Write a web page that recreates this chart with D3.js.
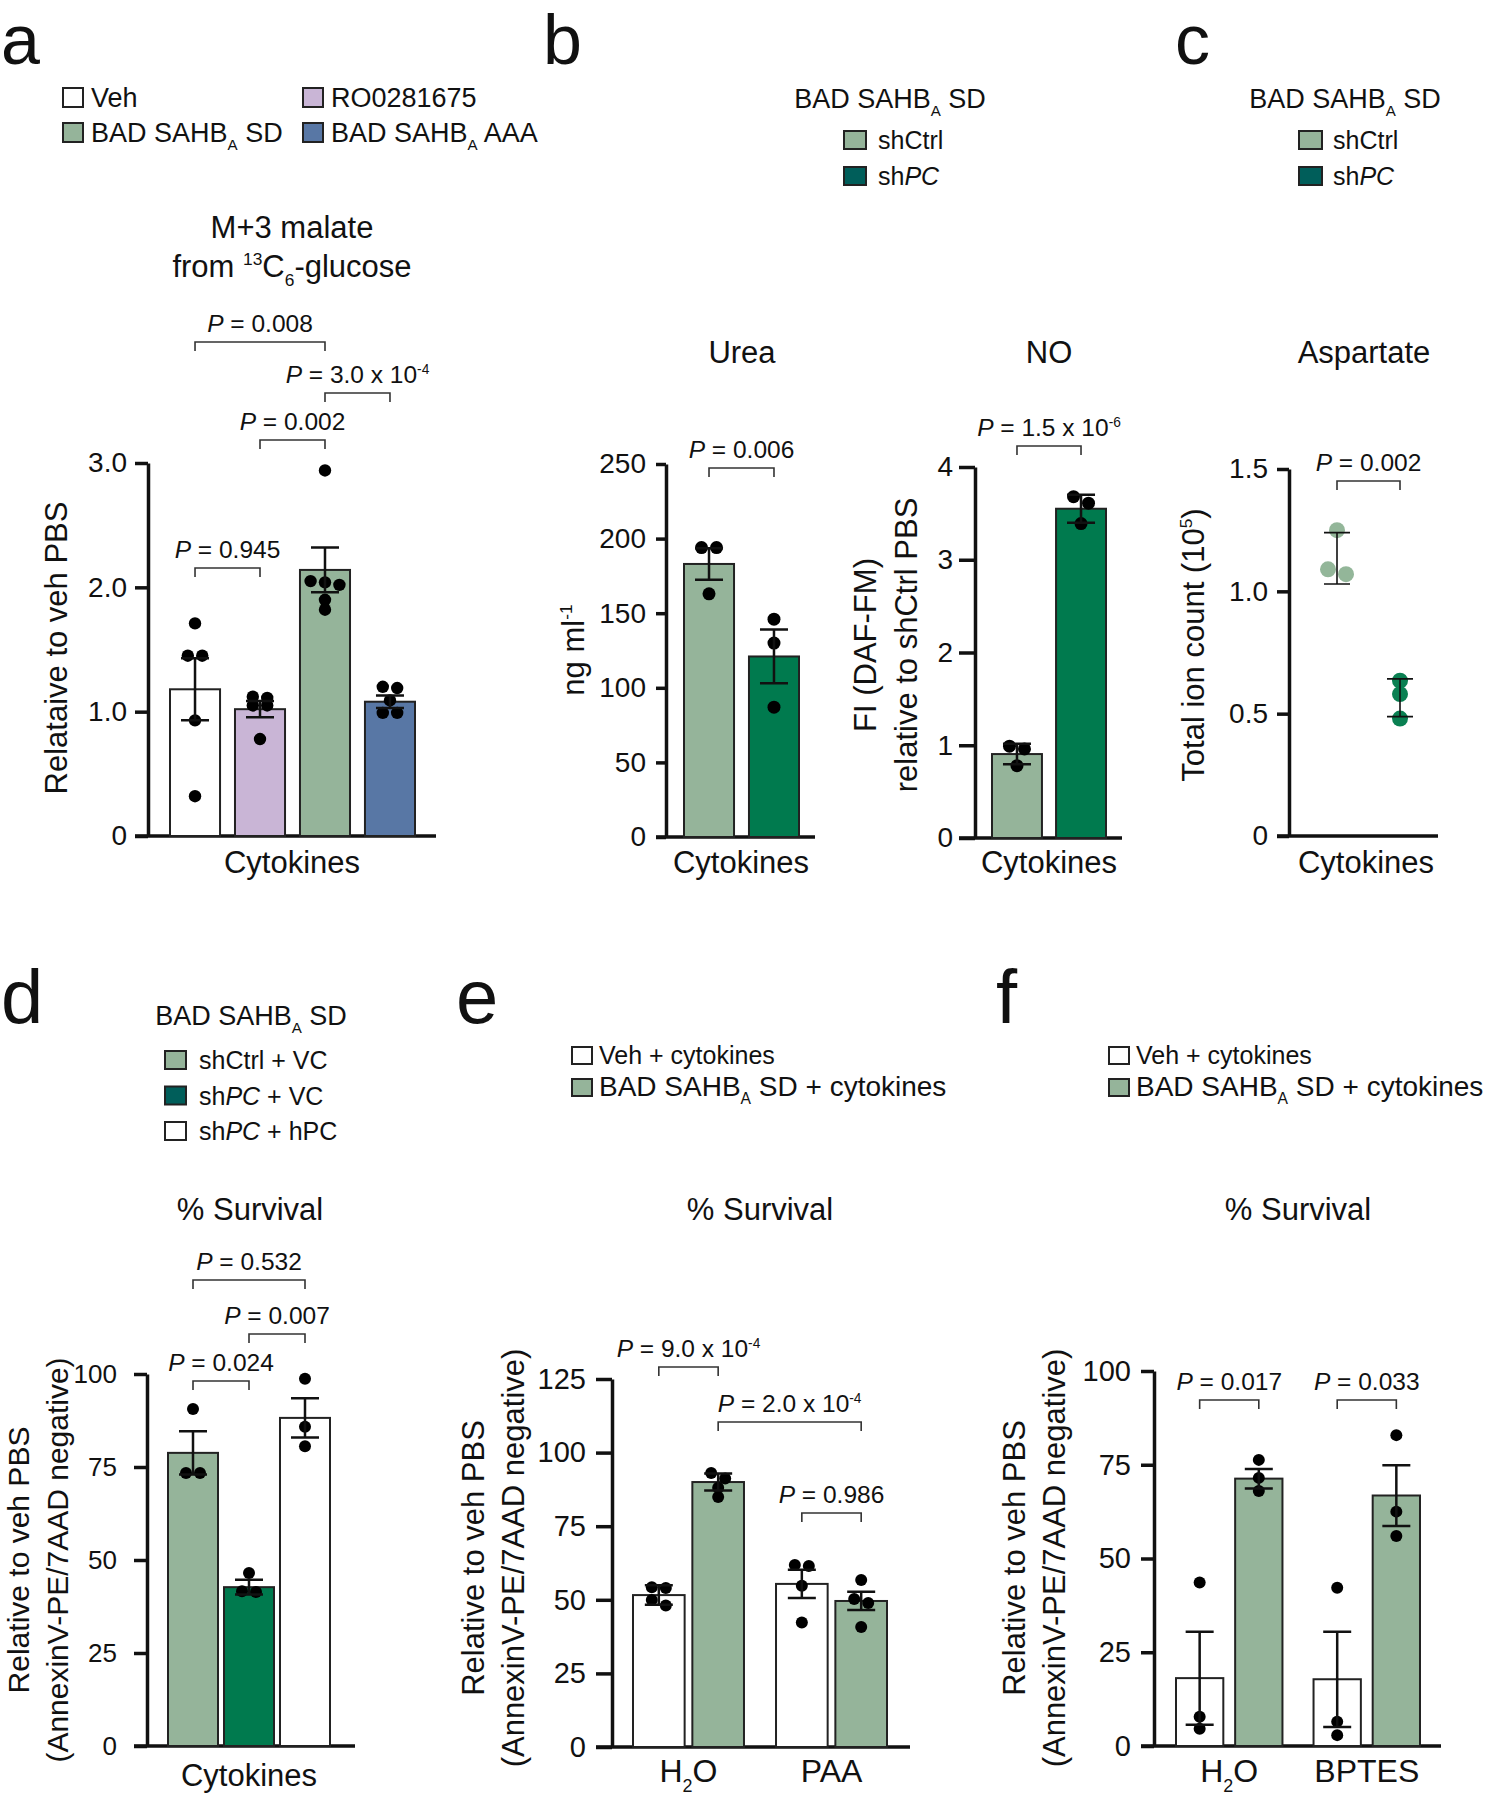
<!DOCTYPE html>
<html>
<head>
<meta charset="utf-8">
<script src="https://cdn.jsdelivr.net/npm/d3@7"></script>
<style>
  body { margin: 0; background: #fff; }
  svg text { font-family: "Liberation Sans", Arial, Helvetica, sans-serif; fill: #111; white-space: pre; }
</style>
</head>
<body>
<div id="container"></div>
<script>
/* DATA */
// a : M+3 malate
const aGroups = ["Veh", "RO0281675", "BAD SAHB_{A} SD", "BAD SAHB_{A} AAA"];
const aMeans = [1.18, 1.02, 2.14, 1.08];
const aSem = [0.25, 0.065, 0.18, 0.05];
const aPoints = [
  [1.71, 1.45, 1.45, 0.93, 0.32],
  [1.12, 1.11, 1.05, 1.05, 0.78],
  [2.94, 2.04, 2.05, 2.02, 1.90, 1.82],
  [1.20, 1.19, 1.09, 0.99, 0.99]
];
const aTicks = [0, 1, 2, 3];
const aPairs = [[0, 1], [1, 2], [0, 2], [2, 3]];
const aP = ["0.945", "0.002", "0.008", "3.0 x 10^{-4}"];

// b : urea and NO
const bGroups = ["shCtrl", "sh*PC*"];
const ureaMeans = [183, 121];
const ureaSem = [10.5, 18];
const ureaPoints = [[194, 194, 163], [146, 130, 87]];
const ureaTicks = [0, 50, 100, 150, 200, 250];
const ureaP = "0.006";
const noMeans = [0.905, 3.55];
const noSem = [0.11, 0.15];
const noPoints = [[0.99, 0.96, 0.78], [3.68, 3.61, 3.39]];
const noTicks = [0, 1, 2, 3, 4];
const noP = "1.5 x 10^{-6}";

// c : aspartate
const cGroups = ["shCtrl", "sh*PC*"];
const cPoints = [[1.25, 1.07, 1.09], [0.635, 0.58, 0.48]];
const cMeans = [1.135, 0.565];
const cSd = [0.105, 0.077];
const cTicks = [0, 0.5, 1.0, 1.5];
const cP = "0.002";

// d : % survival, PC rescue
const dGroups = ["shCtrl + VC", "sh*PC* + VC", "sh*PC* + hPC"];
const dMeans = [78.8, 42.7, 88.2];
const dSem = [5.8, 2.0, 5.3];
const dPoints = [[90.6, 73.4, 73.4], [46.5, 41.4, 41.6], [98.7, 85.8, 80.6]];
const dTicks = [0, 25, 50, 75, 100];
const dPairs = [[0, 1], [1, 2], [0, 2]];
const dP = ["0.024", "0.007", "0.532"];

// e : PAA
const eCats = ["H_{2}O", "PAA"];
const efSeries = ["Veh + cytokines", "BAD SAHB_{A} SD + cytokines"];
const eMeans = [[51.6, 90.0], [55.4, 49.6]];
const eSem = [[3.3, 2.9], [4.8, 3.1]];
const ePoints = [
  [[54.0, 54.3, 48.1, 49.9], [93.1, 91.2, 88.1, 84.9]],
  [[61.5, 61.8, 54.8, 42.3], [56.7, 50.3, 48.9, 40.8]]
];
const eTicks = [0, 25, 50, 75, 100, 125];
const ePairs = [[[0, 0], [0, 1]], [[0, 1], [1, 1]], [[1, 0], [1, 1]]];
const eP = ["9.0 x 10^{-4}", "2.0 x 10^{-4}", "0.986"];

// f : BPTES
const fCats = ["H_{2}O", "BPTES"];
const fMeans = [[18.1, 71.3], [17.8, 66.8]];
const fSem = [[12.4, 2.6], [12.7, 8.1]];
const fPoints = [
  [[43.6, 7.8, 4.6], [76.3, 71.5, 68.0]],
  [[42.2, 6.5, 2.9], [82.9, 62.5, 56.0]]
];
const fTicks = [0, 25, 50, 75, 100];
const fPairs = [[[0, 0], [0, 1]], [[1, 0], [1, 1]]];
const fP = ["0.017", "0.033"];

/* STYLES */
const WHITE = "#ffffff", LILAC = "#c9b5d6", SAGE = "#95b49a", BLUE = "#5877a5",
  DKGREEN = "#007a4e", TEAL = "#005e5a";
const aColors = [WHITE, LILAC, SAGE, BLUE];
const bColors = [SAGE, DKGREEN];
const dColors = [SAGE, DKGREEN, WHITE];
const dLegColors = [SAGE, TEAL, WHITE];
const efColors = [WHITE, SAGE];
const efLegSize = [25, 28];
const TITLE = 31, CAT = 31, PSIZE = 24.5, YLAB = 31;

/* SVG */
const svg = d3.select("#container").append("svg")
  .attr("width", 1486)
  .attr("height", 1800);

// text with _{sub}, ^{sup} and *italic* parts
function parse(str) {
  return str.split(/(_\{[^}]*\}|\^\{[^}]*\}|\*[^*]*\*)/).filter(s => s).map(s => {
    if (s.startsWith("_{")) return { t: s.slice(2, -1), sub: true };
    if (s.startsWith("^{")) return { t: s.slice(2, -1), sup: true };
    if (s.startsWith("*")) return { t: s.slice(1, -1), it: true };
    return { t: s };
  });
}
function rich(g, x, y, str, size, anchor = "middle") {
  const t = g.append("text").attr("x", x).attr("y", y)
    .attr("font-size", size).attr("text-anchor", anchor);
  let shift = 0;
  parse(str).forEach(p => {
    const ts = t.append("tspan").text(p.t);
    const target = p.sub ? size * 0.3 : p.sup ? -size * 0.38 : 0;
    if (target !== shift) ts.attr("dy", target - shift);
    shift = target;
    if (p.sub || p.sup) ts.attr("font-size", size * 0.56);
    if (p.it) ts.attr("font-style", "italic");
  });
  return t;
}
function vlabel(cx, cy, str, size) {
  const g = svg.append("g").attr("transform", `translate(${cx},${cy}) rotate(-90)`);
  rich(g, 0, size * 0.36, str, size);
}
function letter(x, y, s, size) {
  svg.append("text").attr("x", x).attr("y", y).attr("font-size", size).text(s);
}
function legendBox(x, y, w, h, fill, label, gap, size) {
  svg.append("rect").attr("x", x).attr("y", y).attr("width", w).attr("height", h)
    .attr("fill", fill).attr("stroke", "#222").attr("stroke-width", 2);
  rich(svg, x + gap, y + h, label, size, "start");
}

// axes: y axis with ticks, plus a baseline at 0
function axes(y, o) {
  const ax = svg.append("g").attr("transform", `translate(${o.x},0)`)
    .call(d3.axisLeft(y).tickValues(o.ticks).tickSize(o.tick).tickSizeOuter(0)
      .tickPadding(o.pad).tickFormat(o.fmt || (d => d)));
  ax.select(".domain").attr("stroke", "#111").attr("stroke-width", 3.5);
  ax.selectAll(".tick line").attr("stroke", "#111").attr("stroke-width", 3.5);
  ax.selectAll(".tick text").attr("font-size", o.size);
  svg.append("line")
    .attr("x1", o.x - o.tick).attr("x2", o.right)
    .attr("y1", y(0)).attr("y2", y(0))
    .attr("stroke", "#111").attr("stroke-width", 3.5);
}

// spread points that sit on the same row
function dodge(vals, y, r, thr) {
  const items = vals.map(v => ({ v, py: y(v) })).sort((a, b) => a.py - b.py);
  const rows = [];
  items.forEach(it => {
    const row = rows[rows.length - 1];
    if (row && it.py - row[0].py < thr) row.push(it); else rows.push([it]);
  });
  rows.forEach(row => row.forEach((it, i) => { it.dx = (i - (row.length - 1) / 2) * (2 * r + 2); }));
  return items;
}

function errbar(cx, y1, y2, half, sw) {
  svg.append("path")
    .attr("d", `M${cx - half},${y1}H${cx + half}M${cx},${y1}V${y2}M${cx - half},${y2}H${cx + half}`)
    .attr("fill", "none").attr("stroke", "#111").attr("stroke-width", sw);
}

function bars(items, y, r) {
  svg.append("g").selectAll("rect")
    .data(items)
    .join("rect")
    .attr("x", d => d.x).attr("width", d => d.w)
    .attr("y", d => y(d.mean)).attr("height", d => y(0) - y(d.mean))
    .attr("fill", d => d.fill).attr("stroke", "#222").attr("stroke-width", 2);
  items.forEach(d => {
    const cx = d.x + d.w / 2;
    svg.append("g").selectAll("circle")
      .data(dodge(d.pts, y, r, r * 1.3))
      .join("circle")
      .attr("cx", p => cx + p.dx).attr("cy", p => p.py).attr("r", r).attr("fill", "#000");
    errbar(cx, y(d.mean - d.sem), y(d.mean + d.sem), 14, 2.5);
  });
}

function bracket(x1, x2, yb, p) {
  svg.append("path").attr("d", `M${x1},${yb + 9}V${yb}H${x2}V${yb + 9}`)
    .attr("fill", "none").attr("stroke", "#333").attr("stroke-width", 1.6);
  rich(svg, (x1 + x2) / 2, yb - 10, "*P* = " + p, PSIZE);
}

/* PANEL A */
letter(1, 64, "a", 70);
[[63, 88], [303, 88], [63, 123], [303, 123]].forEach((pos, i) =>
  legendBox(pos[0], pos[1], 20, 19, aColors[i], aGroups[i], 28, 27));
rich(svg, 292, 238, "M+3 malate", TITLE);
rich(svg, 292, 277, "from ^{13}C_{6}-glucose", TITLE);

const yA = d3.scaleLinear().domain([0, 3]).range([836, 463]);
const xA = d3.scaleBand().domain(aGroups).range([170, 415]).paddingInner(0.23);
axes(yA, { x: 148, right: 436, ticks: aTicks, tick: 13, pad: 8, size: 28, fmt: d => d === 0 ? "0" : d3.format(".1f")(d) });
bars(aGroups.map((g, i) => ({ x: xA(g), w: xA.bandwidth(), mean: aMeans[i], sem: aSem[i], pts: aPoints[i], fill: aColors[i] })), yA, 6.2);
const aBracketY = [568, 440, 342, 393];
aPairs.forEach((pr, i) => bracket(
  xA(aGroups[pr[0]]) + xA.bandwidth() / 2, xA(aGroups[pr[1]]) + xA.bandwidth() / 2, aBracketY[i], aP[i]));
vlabel(56, 648, "Relataive to veh PBS", YLAB);
rich(svg, 292, 873, "Cytokines", CAT);

/* PANEL B */
letter(543, 64, "b", 70);
rich(svg, 890, 108, "BAD SAHB_{A} SD", 27);
bGroups.forEach((g, i) => legendBox(844, 131 + i * 36, 22, 18, i === 0 ? SAGE : TEAL, g, 34, 25));

// urea
rich(svg, 742, 363, "Urea", TITLE);
const yU = d3.scaleLinear().domain([0, 250]).range([837, 464]);
const xU = d3.scaleBand().domain(bGroups).range([684, 799]).paddingInner(0.23);
axes(yU, { x: 666, right: 815, ticks: ureaTicks, tick: 10, pad: 10, size: 28 });
bars(bGroups.map((g, i) => ({ x: xU(g), w: xU.bandwidth(), mean: ureaMeans[i], sem: ureaSem[i], pts: ureaPoints[i], fill: bColors[i] })), yU, 6.5);
bracket(xU(bGroups[0]) + xU.bandwidth() / 2, xU(bGroups[1]) + xU.bandwidth() / 2, 468, ureaP);
vlabel(573, 650, "ng ml^{-1}", YLAB);
rich(svg, 741, 873, "Cytokines", CAT);

// NO
rich(svg, 1049, 363, "NO", TITLE);
const yN = d3.scaleLinear().domain([0, 4]).range([838, 467]);
const xN = d3.scaleBand().domain(bGroups).range([992, 1106]).paddingInner(0.22);
axes(yN, { x: 975, right: 1122, ticks: noTicks, tick: 16, pad: 6, size: 28 });
bars(bGroups.map((g, i) => ({ x: xN(g), w: xN.bandwidth(), mean: noMeans[i], sem: noSem[i], pts: noPoints[i], fill: bColors[i] })), yN, 6.5);
bracket(xN(bGroups[0]) + xN.bandwidth() / 2, xN(bGroups[1]) + xN.bandwidth() / 2, 446, noP);
vlabel(865, 645, "FI (DAF-FM)", YLAB);
vlabel(906, 645, "relative to shCtrl PBS", YLAB);
rich(svg, 1049, 873, "Cytokines", CAT);

/* PANEL C */
letter(1175, 64, "c", 70);
rich(svg, 1345, 108, "BAD SAHB_{A} SD", 27);
cGroups.forEach((g, i) => legendBox(1299, 131 + i * 36, 23, 18, i === 0 ? SAGE : TEAL, g, 34, 25));
rich(svg, 1364, 363, "Aspartate", TITLE);
const yC = d3.scaleLinear().domain([0, 1.5]).range([836, 469]);
const xC = d3.scalePoint().domain(cGroups).range([1337, 1400]);
axes(yC, { x: 1289, right: 1438, ticks: cTicks, tick: 12, pad: 9, size: 28, fmt: d => d === 0 ? "0" : d3.format(".1f")(d) });
cGroups.forEach((g, i) => {
  svg.append("g").selectAll("circle")
    .data(dodge(cPoints[i], yC, 8, 8 * 0.9))
    .join("circle")
    .attr("cx", p => xC(g) + p.dx).attr("cy", p => p.py).attr("r", 8)
    .attr("fill", i === 0 ? "#93b699" : "#0a8052");
  errbar(xC(g), yC(cMeans[i] - cSd[i]), yC(cMeans[i] + cSd[i]), 13, 1.6);
});
bracket(xC(cGroups[0]), xC(cGroups[1]), 481, cP);
vlabel(1193, 645, "Total ion count (10^{5})", YLAB);
rich(svg, 1366, 873, "Cytokines", CAT);

/* PANEL D */
letter(1, 1023, "d", 76);
rich(svg, 251, 1025, "BAD SAHB_{A} SD", 27);
dGroups.forEach((g, i) => legendBox(165, 1051 + i * 35.5, 21, 18, dLegColors[i], g, 34, 25));
rich(svg, 250, 1220, "% Survival", TITLE);
const yD = d3.scaleLinear().domain([0, 100]).range([1746, 1374]);
const xD = d3.scaleBand().domain(dGroups).range([168, 330]).paddingInner(0.107);
axes(yD, { x: 147, right: 355, ticks: dTicks, tick: 13, pad: 17, size: 26 });
bars(dGroups.map((g, i) => ({ x: xD(g), w: xD.bandwidth(), mean: dMeans[i], sem: dSem[i], pts: dPoints[i], fill: dColors[i] })), yD, 6);
const dBracketY = [1381, 1334, 1280];
dPairs.forEach((pr, i) => bracket(
  xD(dGroups[pr[0]]) + xD.bandwidth() / 2, xD(dGroups[pr[1]]) + xD.bandwidth() / 2, dBracketY[i], dP[i]));
vlabel(18, 1560, "Relative to veh PBS", 30);
vlabel(57, 1560, "(AnnexinV-PE/7AAD negative)", 30);
rich(svg, 249, 1786, "Cytokines", CAT);

/* PANELS E AND F */
function groupedPanel(o) {
  o.series.forEach((s, i) => legendBox(o.legX, 1047 + i * 32, 20, 17, efColors[i], s, 27, efLegSize[i]));
  rich(svg, (o.range[0] + o.range[1]) / 2, 1220, "% Survival", TITLE);
  const y = d3.scaleLinear().domain(o.domain).range(o.yRange);
  const x0 = d3.scaleBand().domain(o.cats).range(o.range).paddingInner(o.p0);
  const x1 = d3.scaleBand().domain(o.series).range([0, x0.bandwidth()]).paddingInner(o.p1);
  axes(y, { x: o.axisX, right: o.right, ticks: o.ticks, tick: o.tick, pad: 10, size: 29 });
  const items = [];
  o.cats.forEach((c, ci) => o.series.forEach((s, si) => items.push({
    x: x0(c) + x1(s), w: x1.bandwidth(), mean: o.means[ci][si], sem: o.sem[ci][si],
    pts: o.points[ci][si], fill: efColors[si]
  })));
  bars(items, y, 6);
  const cx = (ci, si) => x0(o.cats[ci]) + x1(o.series[si]) + x1.bandwidth() / 2;
  o.pairs.forEach((pr, i) => bracket(cx(...pr[0]), cx(...pr[1]), o.bracketY[i], o.pvals[i]));
  o.cats.forEach(c => rich(svg, x0(c) + x0.bandwidth() / 2, 1782, c, 32));
  vlabel(o.labX, 1558, "Relative to veh PBS", YLAB);
  vlabel(o.labX + 40, 1558, "(AnnexinV-PE/7AAD negative)", YLAB);
}

letter(456, 1023, "e", 76);
groupedPanel({
  series: efSeries, cats: eCats, means: eMeans, sem: eSem, points: ePoints,
  ticks: eTicks, domain: [0, 125], yRange: [1747, 1379], range: [633, 887], p0: 0.224, p1: 0.13,
  axisX: 612, right: 910, tick: 16, legX: 572, pairs: ePairs, pvals: eP,
  bracketY: [1367, 1422, 1513], labX: 473
});

letter(996, 1023, "f", 76);
groupedPanel({
  series: efSeries, cats: fCats, means: fMeans, sem: fSem, points: fPoints,
  ticks: fTicks, domain: [0, 100], yRange: [1746, 1371], range: [1176, 1420], p0: 0.226, p1: 0.2,
  axisX: 1154, right: 1441, tick: 13, legX: 1109, pairs: fPairs, pvals: fP,
  bracketY: [1400, 1400], labX: 1014
});
</script>
</body>
</html>
